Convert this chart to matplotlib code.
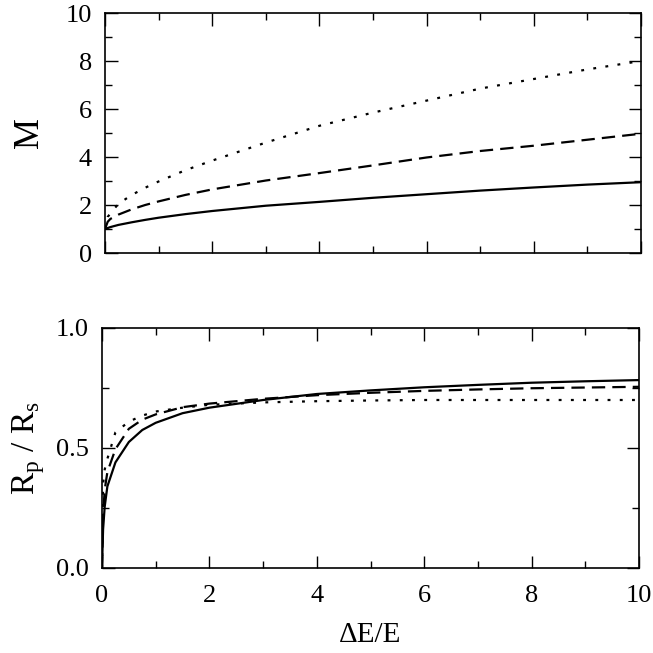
import numpy as np
import matplotlib.pyplot as plt
from matplotlib.ticker import MultipleLocator

plt.rcParams['font.family'] = ['Liberation Serif', 'DejaVu Serif']
plt.rcParams['mathtext.fontset'] = 'custom'
plt.rcParams['mathtext.rm'] = 'Liberation Serif'

# valores
x_m = [0, 0.05, 0.1, 0.25, 0.5, 0.75, 1, 1.5, 2, 3, 4, 5, 6, 7, 8, 9, 10]
m_solid = [1.0, 1.04, 1.08, 1.17, 1.28, 1.38, 1.47, 1.62, 1.75, 1.97, 2.13, 2.3, 2.45, 2.6, 2.73, 2.85, 2.95]
m_dash = [1.0, 1.3, 1.42, 1.6, 1.82, 2.0, 2.15, 2.42, 2.65, 3.02, 3.33, 3.65, 3.98, 4.25, 4.47, 4.72, 4.97]
m_dot = [1.0, 1.5, 1.65, 2.05, 2.42, 2.72, 2.98, 3.45, 3.85, 4.6, 5.3, 5.85, 6.35, 6.85, 7.25, 7.65, 8.0]

x_r = [0, 0.02, 0.05, 0.1, 0.25, 0.5, 0.75, 1, 1.5, 2, 3, 4, 5, 6, 7, 8, 9, 10]
r_solid = [0.0, 0.16, 0.255, 0.34, 0.44, 0.525, 0.575, 0.605, 0.645, 0.668, 0.70, 0.725, 0.74, 0.753, 0.763, 0.772, 0.778, 0.783]
r_dash = [0.0, 0.22, 0.325, 0.40, 0.495, 0.58, 0.618, 0.64, 0.67, 0.685, 0.705, 0.72, 0.73, 0.738, 0.744, 0.749, 0.752, 0.755]
r_dot = [0.0, 0.35, 0.41, 0.455, 0.565, 0.61, 0.635, 0.652, 0.668, 0.68, 0.69, 0.695, 0.698, 0.70, 0.70, 0.70, 0.70, 0.70]

fig = plt.figure(figsize=(6.53, 6.53), dpi=100)
ax1 = fig.add_axes([105/653, 1 - 253/653, 536/653, 240/653])
ax2 = fig.add_axes([102/653, 1 - 568/653, 537/653, 240/653])

lw = 1.6
dash = (0, (6, 3.2))
dot = (0, (1.3, 4.2))

ax1.plot(x_m, m_solid, color='black', lw=lw)
ax1.plot(x_m, m_dash, color='black', lw=lw, ls=dash)
ax1.plot(x_m, m_dot, color='black', lw=lw, ls=dot)

ax2.plot(x_r, r_solid, color='black', lw=lw)
ax2.plot(x_r, r_dash, color='black', lw=lw, ls=dash)
ax2.plot(x_r, r_dot, color='black', lw=lw, ls=dot)

ax1.set_xlim(0, 10)
ax1.set_ylim(0, 10)
ax2.set_xlim(0, 10)
ax2.set_ylim(0, 1)

for ax in (ax1, ax2):
    ax.xaxis.set_major_locator(MultipleLocator(2))
    ax.xaxis.set_minor_locator(MultipleLocator(1))
    ax.tick_params(which='both', direction='in', top=True, right=True,
                   labelsize=19, width=1.0)
    ax.tick_params(which='major', length=9)
    ax.tick_params(which='minor', length=5)
    ax.tick_params(axis='x', pad=12)
    ax.tick_params(axis='y', pad=9.5)
    for s in ax.spines.values():
        s.set_linewidth(1.2)

ax1.yaxis.set_major_locator(MultipleLocator(2))
ax1.yaxis.set_minor_locator(MultipleLocator(1))
ax1.set_xticklabels([])
ax2.yaxis.set_major_locator(MultipleLocator(0.5))
ax2.yaxis.set_minor_locator(MultipleLocator(0.25))
ax2.yaxis.set_major_formatter(plt.FormatStrFormatter('%.1f'))

ax1.set_ylabel('M', fontsize=25, labelpad=14)
ax2.set_ylabel(r'R$_\mathrm{p}$ / R$_\mathrm{s}$', fontsize=24, labelpad=6)
ax2.set_xlabel('ΔE/E', fontsize=21, labelpad=11)

plt.savefig('out.png', dpi=100)
